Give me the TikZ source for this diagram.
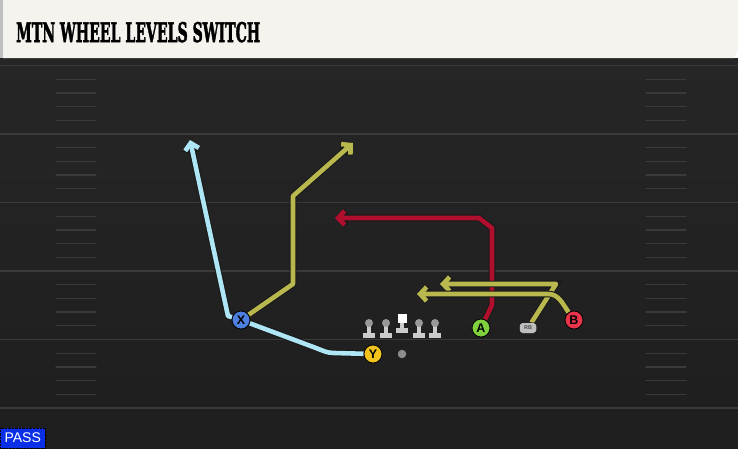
\documentclass[tikz,border=0pt]{standalone}
\usepackage{fontspec}
\usepackage{graphicx}
\setsansfont{Liberation Sans}
\newfontfamily\titlefont{DejaVu Serif}[FakeBold=2.5]
\usetikzlibrary{arrows.meta}
\definecolor{banner}{HTML}{F5F3EE}
\definecolor{field}{HTML}{262626}
\definecolor{fieldlow}{HTML}{1E1E1E}
\definecolor{yardgray}{HTML}{3A3A3A}
\definecolor{skyroute}{HTML}{AEE6F5}
\definecolor{oliveroute}{HTML}{B9B84E}
\definecolor{redroute}{HTML}{B0102E}
\definecolor{xblue}{HTML}{4C7FE0}
\definecolor{yyellow}{HTML}{F2C31C}
\definecolor{agreen}{HTML}{7FD23E}
\definecolor{bred}{HTML}{E8344A}
\definecolor{passblue}{HTML}{0B2FE6}
\pgfdeclarelayer{background}
\pgfdeclarelayer{routes}
\pgfsetlayers{background,routes,main}

\begin{document}
\begin{tikzpicture}
	[x=1pt, y=-1pt,
	player/.style={circle, draw=black, line width=0.8pt, minimum size=18pt, inner sep=0pt,
		font=\sffamily\bfseries\fontsize{12.5}{12.5}\selectfont},
	route/.style={line width=4.6pt, line join=round,
		preaction={draw=black!90, line width=6.6pt}},
	tip/.style={-{Straight Barb[length=6.5pt, width=14pt]}},
	yard/.style={draw=yardgray, line width=1.8pt},
	hash/.style={draw=yardgray, line width=1.3pt, line cap=round},
	lineman/.style={fill=black!20, draw=none}]
	\useasboundingbox (0,0) rectangle (738,448);

	% field and banner
	\begin{pgfonlayer}{background}
	\shade[top color=field, bottom color=fieldlow] (0,58) rectangle (738,448);
	\fill[black!85] (0,58) rectangle (738,63);
	\foreach \i in {0,...,5}
		\draw[yard] (0,{65.5+68.5*\i}) -- (738,{65.5+68.5*\i});
	\foreach \i in {0,...,4}
		\foreach \k in {1,...,4} {
			\draw[hash] (56,{65.5+68.5*\i+13.7*\k}) -- (96,{65.5+68.5*\i+13.7*\k});
			\draw[hash] (646,{65.5+68.5*\i+13.7*\k}) -- (686,{65.5+68.5*\i+13.7*\k});
		}
	\fill[black!25] (0,0) rectangle (3,58);
	\fill[banner] (3,0) -- (738,0) -- (738,50) -- (734,58) -- (3,58) -- cycle;
	\end{pgfonlayer}
	\node[anchor=base west, inner sep=0pt] (title) at (16,42)
		{\resizebox{244pt}{20pt}{\titlefont\bfseries MTN WHEEL LEVELS SWITCH}};
	\node[anchor=south west, fill=passblue, draw=black, densely dotted, text=white,
		minimum width=45pt, minimum height=20pt, inner sep=3pt, align=left,
		font=\sffamily\fontsize{14}{14}\selectfont] (pass) at (0,448) {PASS};

	% line
	\foreach \lx/\nm in {369/lt, 386/lg, 419/rg, 435/rt} {
		\fill[lineman] (\lx-2.2,325) rectangle (\lx+2.2,334);
		\fill[lineman] (\lx-6,333) rectangle (\lx+6,337.5);
		\node[circle, fill=black!40, inner sep=0pt, minimum size=8pt] (\nm) at (\lx,323) {};
	}
	\node[fill=white, inner sep=0pt, minimum size=9pt] (c) at (402,318.5) {};
	\fill[lineman] (399.8,323) rectangle (404.2,329);
	\fill[lineman] (396,328) rectangle (408,332.5);
	\node[circle, fill=black!45, inner sep=0pt, minimum size=8.5pt] (ball) at (402,354) {};

	% players
	\node[player, fill=xblue]   (X) at (241,320) {X};
	\node[player, fill=yyellow] (Y) at (373,354) {Y};
	\node[player, fill=agreen]  (A) at (481,328) {A};
	\node[player, fill=bred]    (B) at (574,320) {B};
	\node[draw=black, fill=black!25, rounded corners=3pt, minimum width=17pt,
		minimum height=10.5pt, inner sep=0pt, text=black!70,
		font=\sffamily\bfseries\fontsize{5.5}{5.5}\selectfont] (RB) at (528,328) {RB};

	\coordinate (xend) at (190,140);
	\coordinate (xpost) at (353,143);
	\coordinate (aend) at (335,218);
	\coordinate (rbend) at (440,284);
	\coordinate (bend) at (417,294);

	% routes
	\begin{pgfonlayer}{routes}
	\draw[route, skyroute, tip] (X) -- (228,316) -- (xend);
	\draw[route, skyroute] (Y) -- (334,353) to[out=180, in=-20] (316,348) -- (X);
	\draw[route, redroute, tip] (A) -- (492,305) -- (492,228) -- (479,218) -- (aend);
	\draw[route, oliveroute, tip] (X) -- (293,284) -- (293,196) -- (xpost);
	\draw[route, oliveroute, tip] (RB) -- (556,284) -- (rbend);
	\draw[route, oliveroute, tip] (B) to[out=125, in=0] (548,294) -- (bend);
	\end{pgfonlayer}
\end{tikzpicture}
\end{document}
